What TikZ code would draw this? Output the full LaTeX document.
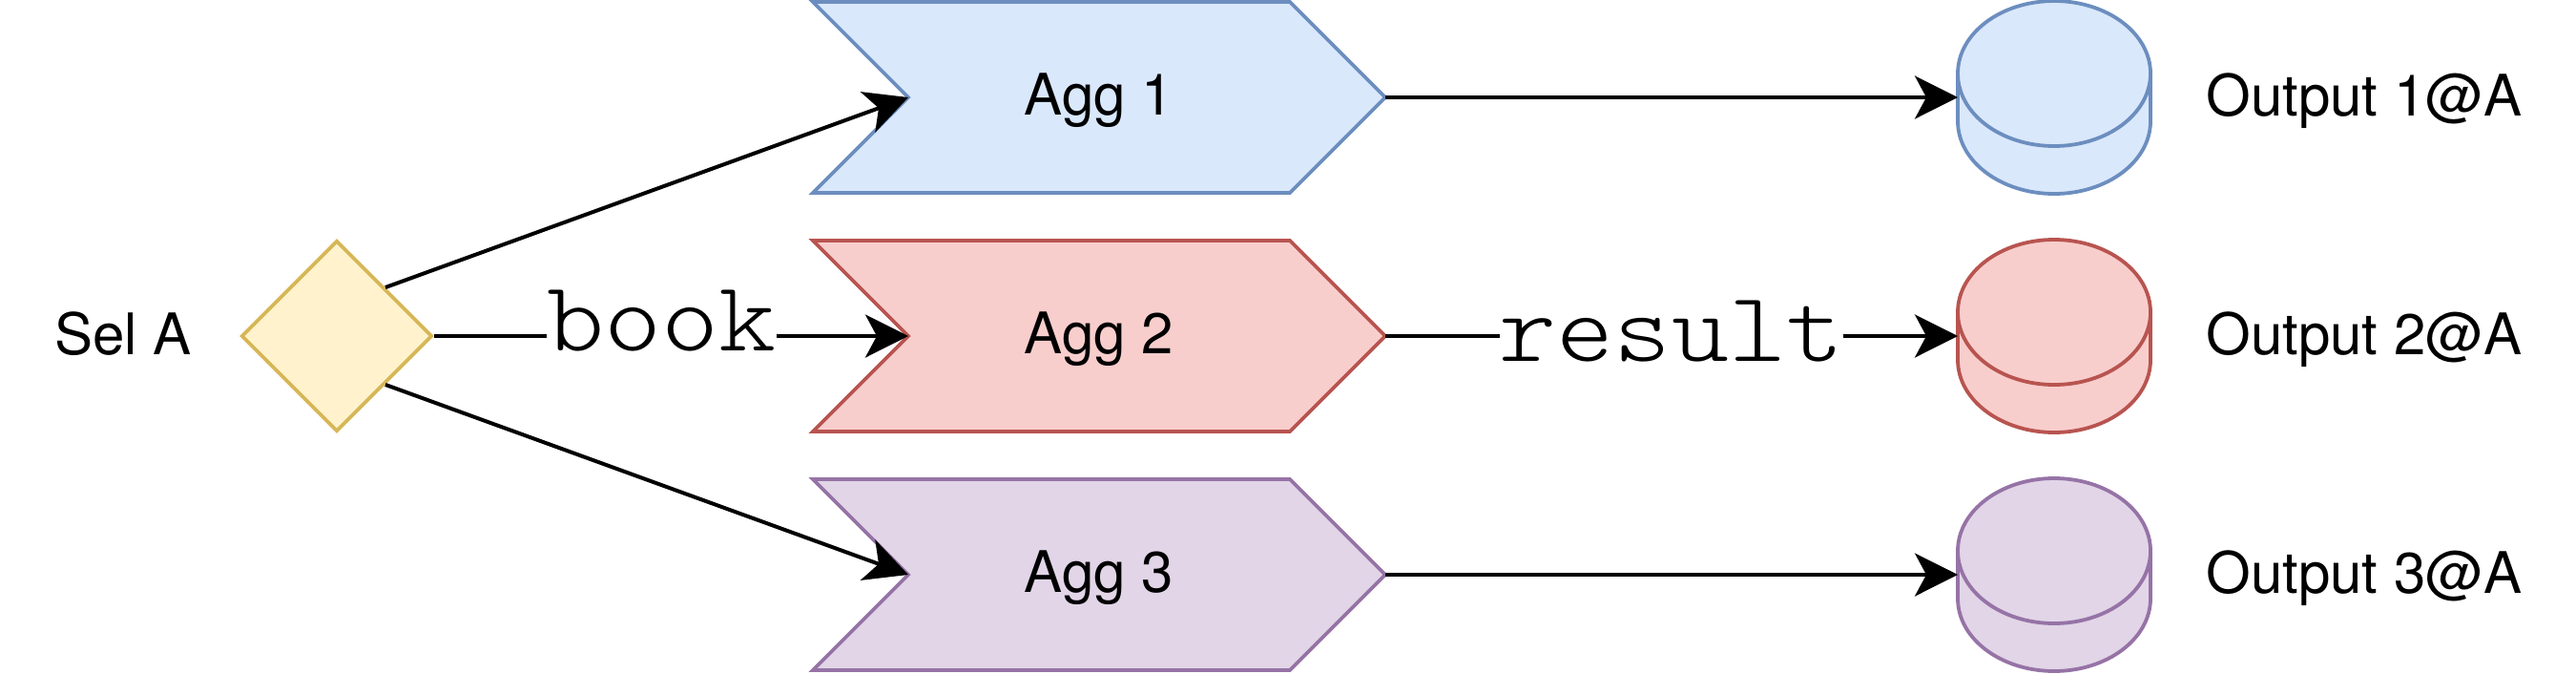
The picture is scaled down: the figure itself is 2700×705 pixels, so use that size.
\documentclass[tikz,border=0pt]{standalone}
\usepackage{fontspec}
\setmainfont{TeX Gyre Heros}
\newfontfamily\lblmono{lmmonolt10-regular.otf}[FakeStretch=1.1]
\usetikzlibrary{arrows.meta,calc,shapes.geometric}
\definecolor{bfill}{HTML}{DAE8FC}\definecolor{bdraw}{HTML}{6C8EBF}
\definecolor{rfill}{HTML}{F8CECC}\definecolor{rdraw}{HTML}{B85450}
\definecolor{pfill}{HTML}{E1D5E7}\definecolor{pdraw}{HTML}{9673A6}
\definecolor{yfill}{HTML}{FFF2CC}\definecolor{ydraw}{HTML}{D6B656}
\begin{document}
\begin{tikzpicture}[x=1pt,y=-1pt,
  shapeline/.style={line width=3.8pt, line join=miter},
  edge/.style={line width=4pt, -{Stealth[length=45pt,width=45pt,inset=12pt]}},
  txt/.style={font=\fontsize{60}{72}\selectfont, inner sep=0pt, anchor=base},
  lbl/.style={font=\lblmono\fontsize{104}{110}\selectfont, fill=white, inner sep=0pt, anchor=base}]
\useasboundingbox (0,0) rectangle (2700,705);

\node[diamond, shapeline, draw=ydraw, fill=yfill, minimum width=200pt, minimum height=200pt, inner sep=0pt] (dia) at (353,352) {};
\node[txt] (sel) at (129,371) {Sel A};

\foreach \i/\yc/\fc/\dc in {1/102/bfill/bdraw, 2/352/rfill/rdraw, 3/602/pfill/pdraw}{
  \draw[shapeline, draw=\dc, fill=\fc] (852,\yc-100) -- (1352,\yc-100) -- (1452,\yc) -- (1352,\yc+100) -- (852,\yc+100) -- (952,\yc) -- cycle;
  \coordinate (n\i) at (952,\yc);
  \coordinate (t\i) at (1452,\yc);
  \node[txt] (agg\i) at (1152,\yc+18) {Agg \i};
  % cylinder
  \fill[\fc] (2052,\yc-25) rectangle (2254,\yc+25);
  \fill[\fc] (2153,\yc+25) ellipse[x radius=101, y radius=76];
  \draw[shapeline, draw=\dc] (2052,\yc-25) -- (2052,\yc+25) arc[start angle=180, end angle=0, x radius=101, y radius=76] -- (2254,\yc-25);
  \draw[shapeline, draw=\dc, fill=\fc] (2153,\yc-25) ellipse[x radius=101, y radius=76];
  \coordinate (c\i) at (2052,\yc);
  \node[txt] (out\i) at (2478,\yc+19) {Output \i@A};
}

\draw[edge] ($(dia.north)!0.5!(dia.east)$) -- (n1);
\draw[edge] (dia.east) -- node[lbl, pos=0.48, yshift=-15pt] (book) {book} (n2);
\draw[edge] ($(dia.south)!0.5!(dia.east)$) -- (n3);
\draw[edge] (t1) -- (c1);
\draw[edge] (t2) -- node[lbl, midway, yshift=-26pt] (res) {result} (c2);
\draw[edge] (t3) -- (c3);
\end{tikzpicture}
\end{document}
